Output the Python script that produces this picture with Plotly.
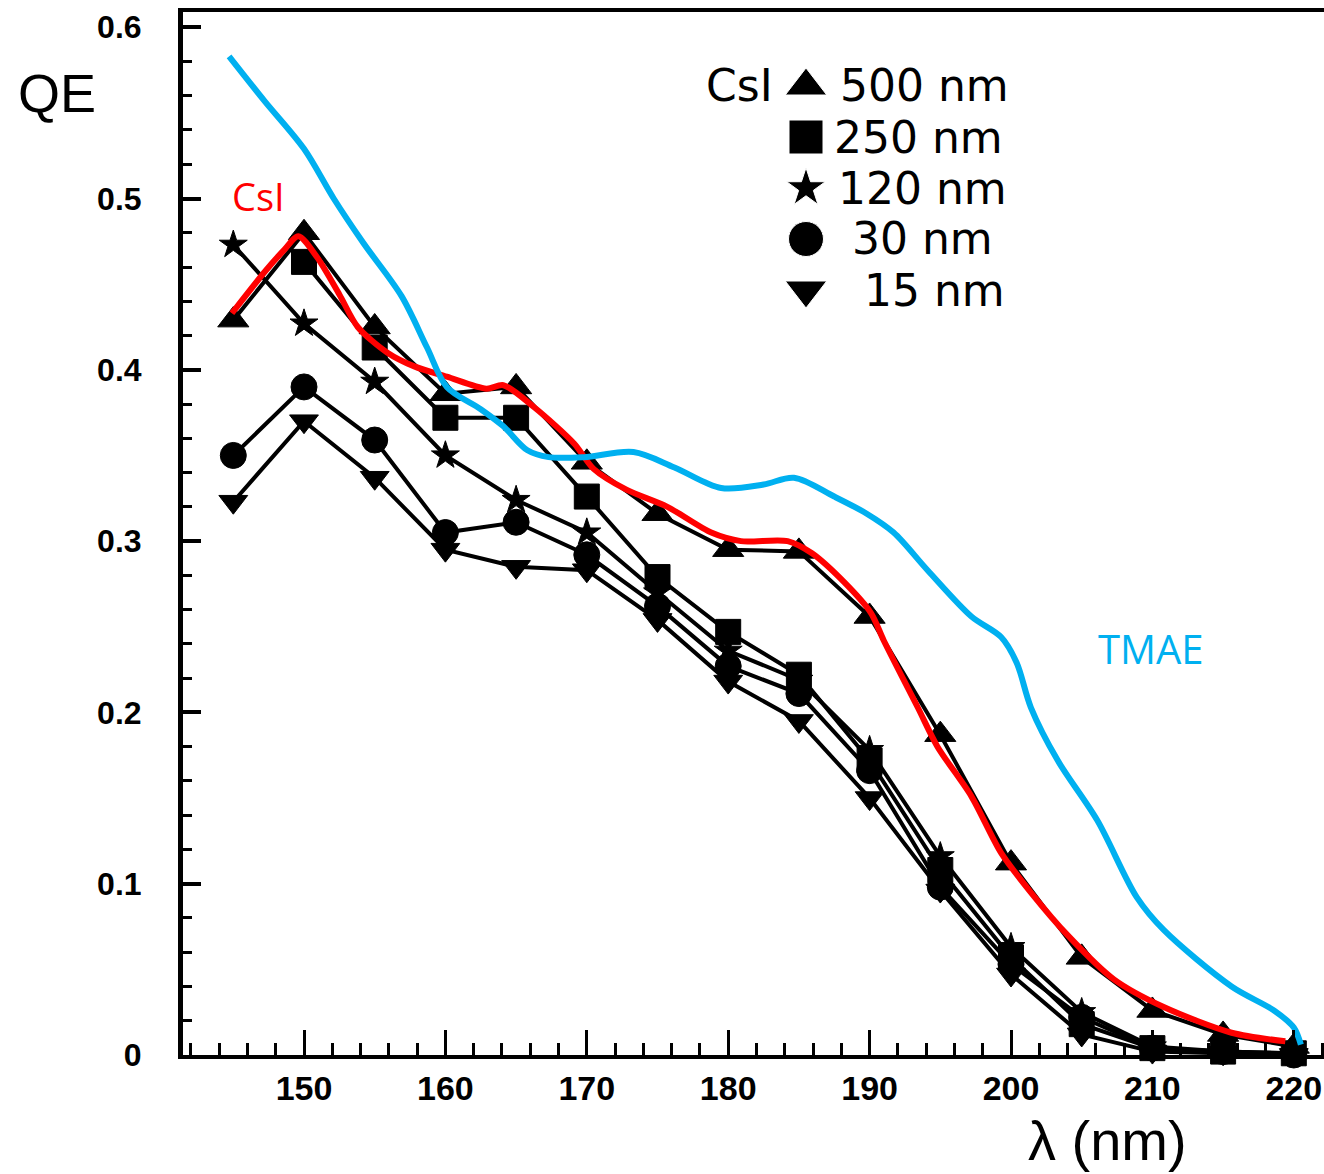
import plotly.graph_objects as go

# Wavelength grid of the CsI measurements (nm)
wavelength = [145, 150, 155, 160, 165, 170, 175, 180, 185, 190, 195, 200, 205, 210, 215, 220]

# Quantum efficiency of CsI photocathodes of different thickness
qe_500nm = [0.429, 0.480, 0.425, 0.386, 0.390, 0.346, 0.316, 0.295, 0.294, 0.256, 0.187, 0.112, 0.057, 0.026, 0.012, 0.005]
wl_250nm = [150, 155, 160, 165, 170, 175, 180, 185, 190, 195, 200, 205, 210, 215, 220]
qe_250nm = [0.463, 0.413, 0.372, 0.372, 0.326, 0.279, 0.247, 0.222, 0.172, 0.108, 0.057, 0.018, 0.004, 0.002, 0.001]
qe_120nm = [0.473, 0.427, 0.393, 0.350, 0.324, 0.305, 0.270, 0.236, 0.219, 0.178, 0.116, 0.063, 0.025, 0.005, 0.002, 0.001]
qe_30nm = [0.350, 0.390, 0.359, 0.305, 0.311, 0.292, 0.262, 0.227, 0.211, 0.166, 0.098, 0.053, 0.022, 0.004, 0.002, 0.000]
qe_15nm = [0.323, 0.370, 0.337, 0.295, 0.285, 0.283, 0.254, 0.218, 0.195, 0.150, 0.096, 0.047, 0.012, 0.002, 0.001, 0.000]

# Smooth CsI reference curve
csi_wl = [144.9, 147.3, 148.6, 149.6, 150.9, 152.5, 153.8, 155.9, 157.8, 160.1, 162.9, 164.1, 166.3,
          169.1, 170.5, 172.8, 175.7, 178.8, 180.9, 184.2, 185.9, 188.2, 190.1, 191.0, 193.4, 194.8,
          197.2, 199.3, 201.4, 204.0, 207.3, 210.8, 215.6, 219.4]
csi_qe = [0.433, 0.458, 0.470, 0.478, 0.466, 0.444, 0.425, 0.410, 0.402, 0.396, 0.389, 0.391, 0.378,
          0.357, 0.342, 0.330, 0.320, 0.305, 0.300, 0.300, 0.293, 0.276, 0.258, 0.242, 0.203, 0.180,
          0.151, 0.118, 0.095, 0.070, 0.044, 0.028, 0.013, 0.008]

# TMAE quantum efficiency curve
tmae_wl = [144.7, 147.2, 150.0, 152.1, 154.2, 156.9, 158.7, 160.1, 162.5, 164.1, 165.8, 167.3, 169.8,
           173.3, 176.2, 179.5, 182.5, 184.65, 187.5, 189.8, 191.7, 194.1, 197.2, 199.3, 200.4, 201.4,
           203.3, 206.1, 208.9, 210.8, 215.6, 218.6, 220.0, 220.5]
tmae_qe = [0.583, 0.557, 0.529, 0.500, 0.474, 0.443, 0.413, 0.390, 0.377, 0.367, 0.353, 0.349, 0.349,
           0.352, 0.343, 0.331, 0.333, 0.337, 0.326, 0.316, 0.305, 0.283, 0.256, 0.244, 0.229, 0.203,
           0.172, 0.137, 0.092, 0.073, 0.040, 0.026, 0.016, 0.006]

legend_labels = ["500 nm", "250 nm", "120 nm", "30 nm", "15 nm"]
legend_symbols = ["triangle-up", "square", "star", "circle", "triangle-down"]
legend_symbol_sizes = [36, 34, 29, 35, 36]

W, H = 1324, 1174
L, R, T, B = 183, 0, 12, 119
PW, PH = W - L - R, H - T - B


def fx(px):
    return (px - L) / PW


def fy(py):
    return (H - B - py) / PH


fig = go.Figure()

series = [
    (wavelength, qe_500nm, "triangle-up", 27),
    (wl_250nm, qe_250nm, "square", 25),
    (wavelength, qe_120nm, "star", 21),
    (wavelength, qe_30nm, "circle", 26),
    (wavelength, qe_15nm, "triangle-down", 25),
]
for xs, ys, sym, sz in series:
    fig.add_trace(go.Scatter(
        x=xs, y=ys, mode="lines+markers",
        line=dict(color="black", width=4),
        marker=dict(symbol=sym, size=sz, color="black", line=dict(color="black", width=1)),
        cliponaxis=False, showlegend=False,
    ))

fig.add_trace(go.Scatter(
    x=csi_wl, y=csi_qe, mode="lines",
    line=dict(color="#FF0000", width=6, shape="spline", smoothing=0.8),
    showlegend=False,
))
fig.add_trace(go.Scatter(
    x=tmae_wl, y=tmae_qe, mode="lines",
    line=dict(color="#00B0F0", width=6, shape="spline", smoothing=0.9),
    cliponaxis=False, showlegend=False,
))

# Key symbols live on a hidden pixel-unit axis pair laid over the plot area
row_y = [86, 137, 188, 239, 290]
key_x = [806] * len(row_y)
fig.add_trace(go.Scatter(
    x=key_x, y=row_y, mode="markers", xaxis="x2", yaxis="y2",
    marker=dict(symbol=legend_symbols, size=legend_symbol_sizes, color="black", opacity=1),
    cliponaxis=False, showlegend=False, hoverinfo="skip",
))

x0 = 150 - (304 - L) / 14.14
x1 = x0 + PW / 14.14
y1 = PH / 1713.0

tick_font = dict(family="Liberation Sans, Arial, sans-serif", color="black", weight="bold")

fig.update_xaxes(
    range=[x0, x1], tick0=150, dtick=10,
    showline=True, linecolor="black", linewidth=4, mirror=True,
    ticks="inside", ticklen=25, tickwidth=3, tickcolor="black",
    tickfont=dict(size=34, **tick_font), ticklabelstandoff=0,
    minor=dict(tick0=150, dtick=2, ticks="inside", ticklen=12, tickwidth=3, tickcolor="black"),
    showgrid=False, zeroline=False,
)
fig.update_yaxes(
    range=[0, y1], tick0=0, dtick=0.1,
    showline=True, linecolor="black", linewidth=5, mirror=False,
    ticks="inside", ticklen=18, tickwidth=4, tickcolor="black",
    tickfont=dict(size=32, **tick_font), ticklabelstandoff=30,
    minor=dict(tick0=0, dtick=0.02, ticks="inside", ticklen=9, tickwidth=3, tickcolor="black"),
    showgrid=False, zeroline=False,
)

ann = []
body = "Liberation Sans, Arial, sans-serif"
key_font = "DejaVu Sans, sans-serif"
ann.append(dict(text="QE", x=fx(57), y=fy(93), font=dict(family=body, size=54, color="black")))
ann.append(dict(text="\u03bb (nm)", x=fx(1107), y=fy(1140), font=dict(family=body, size=56, color="black")))
ann.append(dict(text="CsI", x=fx(258), y=fy(196), font=dict(family="Open Sans, sans-serif", size=38, color="#FF0000")))
ann.append(dict(text="TMAE", x=fx(1151), y=fy(648), font=dict(family="Open Sans, sans-serif", size=40, color="#00B0F0")))

# Thickness key text
label_x = [838, 832, 836, 850, 862]
ann.append(dict(text="CsI", x=fx(775), y=fy(row_y[0]), xanchor="right",
                font=dict(family=key_font, size=44, color="black")))
for gy, lx, lab in zip(row_y, label_x, legend_labels):
    ann.append(dict(text=lab, x=fx(lx), y=fy(gy), xanchor="left",
                    font=dict(family=key_font, size=44, color="black")))

for a in ann:
    a.setdefault("xanchor", "center")
    a.update(xref="paper", yref="paper", yanchor="middle", showarrow=False)

fig.update_layout(
    width=W, height=H,
    margin=dict(l=L, r=R, t=T, b=B, pad=0),
    paper_bgcolor="white", plot_bgcolor="white",
    annotations=ann, showlegend=False,
    xaxis2=dict(overlaying="x", range=[L, W - R], visible=False, fixedrange=True),
    yaxis2=dict(overlaying="y", range=[H - B, T], visible=False, fixedrange=True),
)

fig.write_html("out.html")
